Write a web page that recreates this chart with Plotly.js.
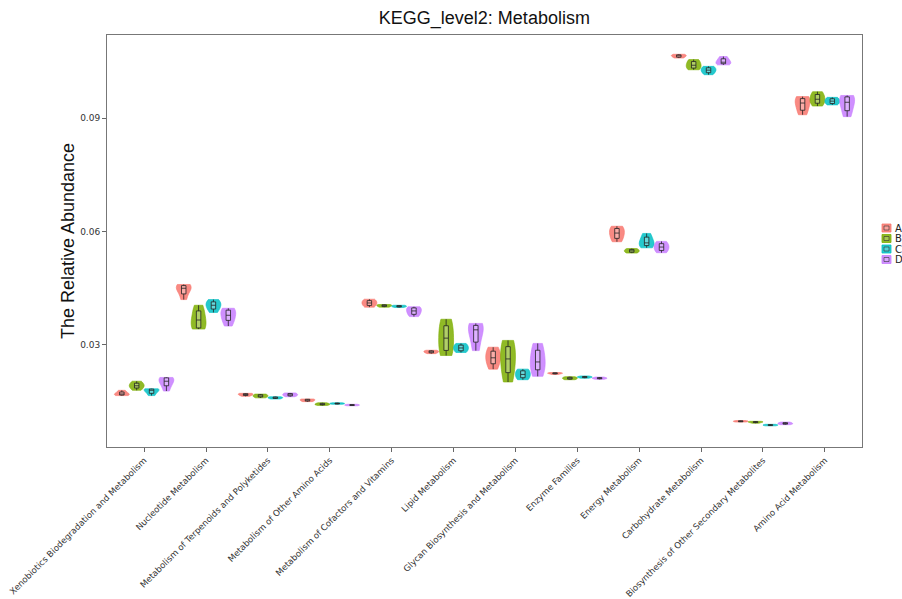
<!DOCTYPE html>
<html>
<head>
<meta charset="utf-8">
<script src="https://cdn.plot.ly/plotly-3.0.1.min.js"></script>
<style>html,body{margin:0;padding:0;background:#fff;}#chart{width:902px;height:599px;}</style>
</head>
<body>
<div id="chart"></div>
<script>
const categories = [
  "Xenobiotics Biodegradation and Metabolism",
  "Nucleotide Metabolism",
  "Metabolism of Terpenoids and Polyketides",
  "Metabolism of Other Amino Acids",
  "Metabolism of Cofactors and Vitamins",
  "Lipid Metabolism",
  "Glycan Biosynthesis and Metabolism",
  "Enzyme Families",
  "Energy Metabolism",
  "Carbohydrate Metabolism",
  "Biosynthesis of Other Secondary Metabolites",
  "Amino Acid Metabolism"
];
const groupNames = ["A", "B", "C", "D"];
const groupColors = ["#F8766D", "#7CAE00", "#00BFC4", "#C77CFF"];

// samples per category, one array per group
const valuesA = [
  [0.0166, 0.0168, 0.0170, 0.0174, 0.0180],
  [0.0420, 0.0440, 0.0450, 0.0456, 0.0460],
  [0.0164, 0.0167, 0.0169, 0.0171, 0.0172],
  [0.0150, 0.0152, 0.0154, 0.0156, 0.0157],
  [0.0400, 0.0406, 0.0411, 0.0416, 0.0421],
  [0.0277, 0.0280, 0.0282, 0.0284, 0.0286],
  [0.0236, 0.0255, 0.0266, 0.0280, 0.0294],
  [0.0222, 0.0224, 0.0225, 0.0226, 0.0227],
  [0.0573, 0.0585, 0.0596, 0.0606, 0.0614],
  [0.1059, 0.1062, 0.1065, 0.1067, 0.1069],
  [0.0096, 0.0097, 0.0098, 0.0099, 0.0100],
  [0.0909, 0.0925, 0.0940, 0.0950, 0.0957]
];
const valuesB = [
  [0.0180, 0.0188, 0.0192, 0.0197, 0.0204],
  [0.0342, 0.0345, 0.0360, 0.0372, 0.0390, 0.0405],
  [0.0160, 0.0163, 0.0165, 0.0168, 0.0170],
  [0.0140, 0.0142, 0.0143, 0.0145, 0.0147],
  [0.0400, 0.0402, 0.0404, 0.0406, 0.0407],
  [0.0272, 0.0290, 0.0318, 0.0345, 0.0368],
  [0.0202, 0.0235, 0.0263, 0.0290, 0.0312],
  [0.0208, 0.0210, 0.0212, 0.0214, 0.0216],
  [0.0543, 0.0546, 0.0549, 0.0552, 0.0555],
  [0.1028, 0.1034, 0.1040, 0.1048, 0.1055],
  [0.0093, 0.0095, 0.0096, 0.0097, 0.0098],
  [0.0932, 0.0942, 0.0950, 0.0960, 0.0970]
];
const valuesC = [
  [0.0166, 0.0174, 0.0180, 0.0183, 0.0184],
  [0.0386, 0.0398, 0.0405, 0.0412, 0.0420],
  [0.0157, 0.0159, 0.0160, 0.0162, 0.0163],
  [0.0143, 0.0144, 0.0145, 0.0146, 0.0147],
  [0.0399, 0.0401, 0.0402, 0.0404, 0.0405],
  [0.0280, 0.0286, 0.0292, 0.0298, 0.0304],
  [0.0208, 0.0215, 0.0222, 0.0230, 0.0236],
  [0.0212, 0.0214, 0.0215, 0.0216, 0.0218],
  [0.0557, 0.0565, 0.0570, 0.0582, 0.0595],
  [0.1015, 0.1022, 0.1027, 0.1032, 0.1037],
  [0.0086, 0.0087, 0.0088, 0.0089, 0.0090],
  [0.0935, 0.0940, 0.0945, 0.0950, 0.0955]
];
const valuesD = [
  [0.0178, 0.0192, 0.0200, 0.0208, 0.0213, 0.0214],
  [0.0350, 0.0365, 0.0372, 0.0385, 0.0392, 0.0397],
  [0.0163, 0.0166, 0.0168, 0.0171, 0.0173],
  [0.0139, 0.0140, 0.0141, 0.0142, 0.0143],
  [0.0375, 0.0383, 0.0390, 0.0397, 0.0401],
  [0.0285, 0.0315, 0.0340, 0.0350, 0.0357],
  [0.0217, 0.0240, 0.0255, 0.0280, 0.0304],
  [0.0209, 0.0211, 0.0212, 0.0213, 0.0215],
  [0.0544, 0.0552, 0.0559, 0.0566, 0.0574],
  [0.1041, 0.1045, 0.1048, 0.1055, 0.1063],
  [0.0089, 0.0091, 0.0092, 0.0094, 0.0096],
  [0.0904, 0.0925, 0.0942, 0.0955, 0.0960]
];
const yTickVals = [0.03, 0.06, 0.09];
const yTickText = ["0.03", "0.06", "0.09"];

function hexToRgba(hex, a) {
  const n = parseInt(hex.slice(1), 16);
  return "rgba(" + ((n >> 16) & 255) + "," + ((n >> 8) & 255) + "," + (n & 255) + "," + a + ")";
}

const allValues = [valuesA, valuesB, valuesC, valuesD];
const traces = [];
allValues.forEach(function (vals, gi) {
  vals.forEach(function (arr, ci) {
    traces.push({
      type: "violin",
      name: groupNames[gi],
      x: arr.map(function () { return categories[ci]; }),
      y: arr,
      offsetgroup: groupNames[gi],
      alignmentgroup: "all",
      scalegroup: groupNames[gi] + "_" + ci,
      scalemode: "width",
      spanmode: "hard",
      points: false,
      showlegend: false,
      fillcolor: hexToRgba(groupColors[gi], 0.85),
      line: { color: groupColors[gi], width: 0.6 },
      box: { visible: true, width: 0.3, fillcolor: "rgba(255,255,255,0.3)", line: { color: "#222", width: 0.8 } },
      meanline: { visible: false },
      hoverinfo: "skip"
    });
  });
});

// custom legend (shapes + annotations in paper coords)
const shapes = [];
const annotations = [];
const legX0 = 882, legY0 = 224, legStep = 10.5, legBox = 8;
function px2paperX(px) { return (px - 107) / (902 - 107 - 40); }
function px2paperY(py) { return 1 - (py - 35) / (599 - 35 - 152); }
groupNames.forEach(function (g, i) {
  const y0 = legY0 + i * legStep;
  shapes.push({ type: "rect", xref: "paper", yref: "paper",
    x0: px2paperX(legX0), x1: px2paperX(legX0 + legBox + 1),
    y0: px2paperY(y0 + legBox), y1: px2paperY(y0),
    fillcolor: hexToRgba(groupColors[g === g ? i : i], 0.85), line: { color: groupColors[i], width: 0.8 } });
  shapes.push({ type: "rect", xref: "paper", yref: "paper",
    x0: px2paperX(legX0 + 2), x1: px2paperX(legX0 + legBox - 1),
    y0: px2paperY(y0 + legBox - 2), y1: px2paperY(y0 + 2),
    fillcolor: "rgba(255,255,255,0.2)", line: { color: "#333", width: 0.6 } });
  annotations.push({ xref: "paper", yref: "paper", x: px2paperX(legX0 + legBox + 3), y: px2paperY(y0 + legBox / 2),
    xanchor: "left", yanchor: "middle", text: g, showarrow: false,
    font: { family: "DejaVu Sans, sans-serif", size: 10, color: "#222" } });
});

const layout = {
  width: 902,
  height: 599,
  margin: { l: 107, r: 40, t: 35, b: 152 },
  paper_bgcolor: "#fff",
  plot_bgcolor: "#fff",
  font: { family: "DejaVu Sans, sans-serif", color: "#333" },
  title: { text: "KEGG_level2: Metabolism", x: 0.537, xanchor: "center", y: 0.97, yanchor: "middle", font: { family: "Liberation Sans, Arial, sans-serif", size: 18, color: "#111" } },
  violinmode: "group",
  violingap: 0.04,
  violingroupgap: 0,
  showlegend: false,
  shapes: shapes,
  annotations: annotations,
  xaxis: {
    type: "category",
    categoryorder: "array",
    categoryarray: categories,
    range: [-0.6, 11.6],
    tickangle: -45,
    tickfont: { size: 8.6, color: "#333" },
    ticks: "outside",
    ticklen: 4,
    tickcolor: "#666",
    showline: true,
    linecolor: "#777",
    linewidth: 1,
    mirror: true,
    showgrid: false,
    zeroline: false,
    automargin: false
  },
  yaxis: {
    range: [0.003, 0.112],
    tickvals: yTickVals,
    ticktext: yTickText,
    tickfont: { size: 9, color: "#333" },
    ticks: "outside",
    ticklen: 4,
    tickcolor: "#666",
    showline: true,
    linecolor: "#777",
    linewidth: 1,
    mirror: true,
    showgrid: false,
    zeroline: false,
    automargin: false,
    title: { text: "The Relative Abundance", font: { family: "Liberation Sans, Arial, sans-serif", size: 18, color: "#111" }, standoff: 0 }
  }
};

Plotly.newPlot("chart", traces, layout, { displayModeBar: false, staticPlot: true });
</script>
</body>
</html>
